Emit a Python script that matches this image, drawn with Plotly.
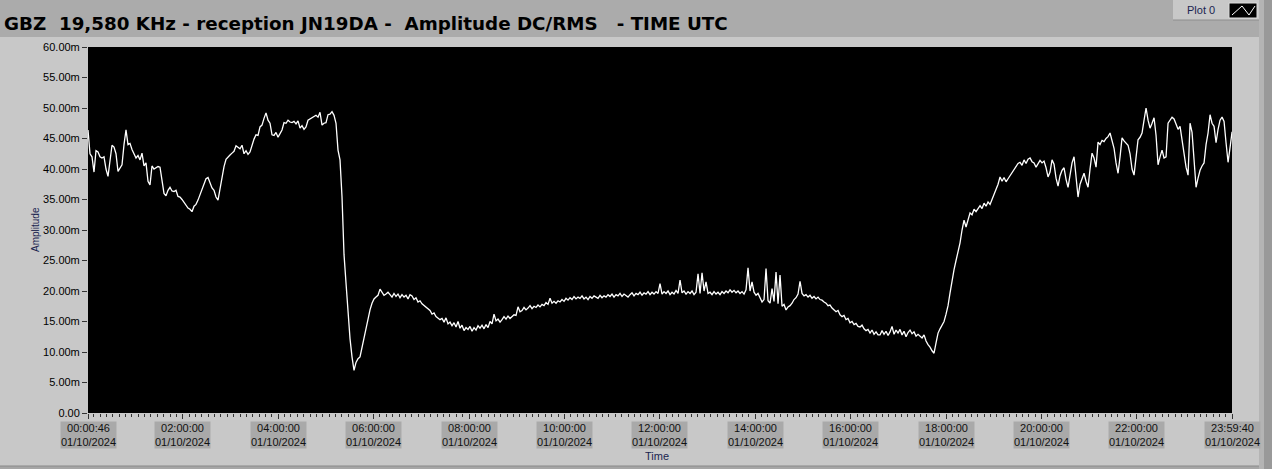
import plotly.graph_objects as go
from datetime import datetime, timedelta

# ---------------- data ----------------
TITLE = "GBZ\u00a0 19,580 KHz - reception JN19DA -\u00a0 Amplitude DC/RMS\u00a0\u00a0 - TIME UTC"
T0 = "2024-10-01 00:00:46"          # waveform start
T_END = "2024-10-01 23:59:40"       # waveform end
DT_SECONDS = 150.94                 # waveform sample interval

# amplitude in milli-units (m)
amplitude_m = [
    46.4, 42.5, 42.0, 39.5, 43.0, 42.8, 42.0, 41.8, 42.0, 40.0,
    38.8, 41.0, 43.9, 43.6, 42.5, 39.6, 40.2, 40.7, 44.0, 46.4,
    44.0, 44.2, 43.2, 42.6, 41.8, 42.2, 41.5, 42.6, 40.5, 41.0,
    38.0, 37.4, 40.5, 40.0, 40.2, 40.4, 40.3, 38.0, 36.0, 35.6,
    36.5, 37.0, 36.4, 36.3, 36.5, 35.5, 35.4, 35.0, 34.5, 34.2,
    33.6, 33.4, 33.0, 33.9, 34.2, 34.9, 35.8, 36.4, 37.4, 38.4,
    38.6, 37.8, 36.9, 36.5, 35.4, 34.9, 36.8, 38.8, 40.4, 41.6,
    42.0, 42.3, 42.6, 42.9, 43.8, 43.6, 43.3, 43.9, 42.5, 43.0,
    42.4, 42.8, 44.1, 44.9, 45.6, 45.5, 46.9, 47.2, 48.3, 49.2,
    48.0, 47.5, 45.6, 45.5, 46.0, 45.2, 45.8, 46.4, 47.6, 47.5,
    48.0, 47.7, 47.6, 47.8, 47.4, 47.9, 46.7, 47.1, 46.5, 46.9,
    48.0, 48.2, 48.3, 48.6, 48.8, 48.5, 49.3, 47.2, 47.5, 47.6,
    48.9, 49.0, 49.4, 48.8, 47.5, 43.1, 41.5, 35.4, 26.0, 21.3,
    15.7, 12.2, 9.2, 7.0, 8.3, 8.9, 9.2, 10.8, 12.3, 14.0,
    15.6, 16.9, 18.0, 18.7, 19.0, 19.3, 20.3, 19.8, 19.3, 19.5,
    19.8, 19.4, 19.0, 19.6, 19.1, 19.5, 18.9, 19.4, 19.0, 19.3,
    18.7, 19.4, 19.2, 18.6, 18.9, 18.2, 18.4, 17.9, 17.6, 17.3,
    17.0, 16.8, 16.2, 16.4, 15.8, 15.6, 15.3, 15.5, 14.9, 15.6,
    14.6, 14.9, 14.3, 14.8, 14.1, 15.0, 13.9, 14.4, 13.5, 14.0,
    13.7, 14.2, 13.4, 14.0, 13.6, 14.3, 13.9, 14.4, 13.8, 14.5,
    14.0, 15.0, 14.6, 16.2, 15.1, 15.4, 14.9, 15.3, 15.8, 15.4,
    15.9, 15.5, 15.8, 16.1, 16.0, 17.4, 16.6, 16.8, 17.3, 16.9,
    17.2, 17.6, 17.1, 17.5, 17.3, 17.7, 17.4, 17.8, 17.6, 18.1,
    17.8, 18.8, 18.0, 18.3, 18.0, 18.4, 18.2, 18.6, 18.3, 18.8,
    18.5, 18.9, 18.6, 19.1, 18.7, 19.0, 18.8, 19.2, 18.7, 19.0,
    18.6, 19.1, 18.8, 19.2, 19.0, 18.8, 19.3, 18.9, 19.2, 19.0,
    19.4, 19.1, 19.5, 19.0, 19.4, 19.2, 19.6, 19.1, 19.5, 19.3,
    19.0, 19.4, 19.7, 19.2, 19.6, 19.4, 19.8, 19.3, 19.7, 19.5,
    19.9, 19.4, 19.8, 19.5, 19.9, 19.6, 21.2, 19.5, 19.9, 19.6,
    20.0, 19.4, 19.8, 19.5, 20.1, 19.6, 21.8, 19.7, 20.0, 19.5,
    19.9, 19.6, 20.0, 19.4, 19.8, 22.8, 19.6, 23.0, 20.0, 21.5,
    19.6, 19.8, 19.4, 19.9, 19.5, 19.8, 19.4, 19.9, 19.6, 20.0,
    19.7, 20.2, 19.8, 20.1, 19.7, 20.0, 19.6, 19.9, 19.5, 20.2,
    23.8, 20.0, 21.5, 19.8, 19.3, 19.6, 18.9, 18.2, 18.6, 23.7,
    18.4, 18.0, 20.4, 18.3, 23.1, 17.9, 22.6, 17.5, 17.8, 16.9,
    17.4, 17.6, 18.0, 18.6, 18.9, 19.5, 21.6, 19.6, 19.2, 19.4,
    19.0, 19.3, 18.8, 19.1, 18.7, 19.0, 18.6, 18.5, 18.2, 18.0,
    17.6, 17.7, 17.2, 16.9, 16.6, 16.8, 16.1, 15.8, 16.0, 15.3,
    15.5, 14.8, 15.0, 14.5, 14.7, 14.2, 14.1, 14.4, 13.8, 13.5,
    13.7, 13.1, 13.6, 12.9, 13.3, 12.8, 12.8, 13.5, 12.9, 13.4,
    12.7, 13.3, 14.2, 12.9, 13.6, 13.1, 13.7, 12.8, 13.4, 12.5,
    13.2, 13.6, 13.0, 13.3, 12.6, 12.9, 12.6, 12.3, 12.8, 11.8,
    11.2, 10.8, 10.2, 9.8, 11.5, 13.1, 13.8, 14.3, 15.0, 16.2,
    17.6, 19.7, 21.8, 23.5, 25.0, 26.3, 27.9, 30.0, 31.6, 30.5,
    31.8, 32.8, 32.5, 33.4, 33.0, 33.6, 34.0, 33.5, 34.4, 33.9,
    34.6, 34.2, 35.0, 35.8, 36.6, 37.5, 38.7, 38.0, 38.6, 37.9,
    38.4, 38.9, 39.5, 39.8, 40.5, 40.9, 41.1, 40.6, 41.5, 40.9,
    41.6, 41.8, 41.2, 41.0, 40.3, 40.8, 41.4, 41.0, 41.3, 40.2,
    38.7, 39.5, 41.5, 40.8, 38.5, 37.2, 38.9, 39.8, 40.2, 38.3,
    37.0, 39.0, 41.0, 42.0, 39.0, 35.4, 37.5, 38.6, 39.3, 38.0,
    37.0, 40.0, 42.6, 41.8, 40.3, 44.4, 44.0, 44.7, 44.5, 45.0,
    45.3, 45.9, 44.8, 43.4, 41.0, 39.3, 42.0, 45.1, 44.6, 44.3,
    43.9, 42.5, 40.0, 39.0, 42.5, 44.8, 45.2, 45.9, 48.0, 50.0,
    48.0, 46.7, 47.5, 48.4, 45.5, 40.7, 42.0, 43.1, 41.8, 42.0,
    47.5, 48.0, 48.5, 48.2, 47.2, 46.5, 47.0, 44.8, 42.0, 40.3,
    39.0, 47.5, 46.0, 42.0, 37.0, 38.5, 39.8, 40.5, 41.0, 44.0,
    45.9, 48.9, 47.5, 47.0, 44.3, 46.5, 48.0, 48.5, 47.8, 44.3,
    41.1, 43.5, 46.1,
]

Y_TICKS = [0, 5, 10, 15, 20, 25, 30, 35, 40, 45, 50, 55, 60]
Y_TICK_TEXT = ["0.00", "5.00m", "10.00m", "15.00m", "20.00m", "25.00m", "30.00m",
               "35.00m", "40.00m", "45.00m", "50.00m", "55.00m", "60.00m"]
X_TICK_TIMES = ["00:00:46", "02:00:00", "04:00:00", "06:00:00", "08:00:00", "10:00:00",
                "12:00:00", "14:00:00", "16:00:00", "18:00:00", "20:00:00", "22:00:00",
                "23:59:40"]
X_TICK_DATE = "01/10/2024"
DAY = "2024-10-01"
MINOR_TICK_MS = 8 * 60 * 1000

# ---------------- geometry helpers (decoration only) ----------------
W, H = 1272, 469
ML, MR, MT, MB = 88, 40, 47, 56
PW, PH = W - ML - MR, H - MT - MB


def px(x):
    return (x - ML) / PW


def py(y):
    return (H - MB - y) / PH


t0 = datetime.fromisoformat(T0)
times = [t0 + timedelta(seconds=i * DT_SECONDS) for i in range(len(amplitude_m))]
x_tick_vals = [f"{DAY} {t}" for t in X_TICK_TIMES]

FONT = "Liberation Sans, Arial, sans-serif"

fig = go.Figure()
fig.add_trace(go.Scatter(x=times, y=amplitude_m, mode="lines",
                         line=dict(color="white", width=1.3), showlegend=False,
                         hoverinfo="skip"))

shapes = [
    # title band
    dict(type="rect", xref="paper", yref="paper", x0=px(0), x1=px(W), y0=py(37), y1=py(0),
         fillcolor="#ababab", line=dict(width=0), layer="below"),
    # right strip
    dict(type="rect", xref="paper", yref="paper", x0=px(1259), x1=px(1264), y0=py(H), y1=py(0),
         fillcolor="#b4b4b4", line=dict(width=0), layer="below"),
    dict(type="rect", xref="paper", yref="paper", x0=px(1264), x1=px(W), y0=py(H), y1=py(0),
         fillcolor="#999999", line=dict(width=0), layer="below"),
    # bottom edge
    dict(type="rect", xref="paper", yref="paper", x0=px(0), x1=px(1259), y0=py(H), y1=py(466),
         fillcolor="#a6a6a6", line=dict(width=0), layer="below"),
    dict(type="line", xref="paper", yref="paper", x0=px(0), x1=px(1259), y0=py(466), y1=py(466),
         line=dict(color="#8a8a8a", width=1), layer="below"),
    # legend box
    dict(type="rect", xref="paper", yref="paper", x0=px(1173), x1=px(1259), y0=py(20), y1=py(0),
         fillcolor="#c8c8c8", line=dict(width=0), layer="below"),
    dict(type="line", xref="paper", yref="paper", x0=px(1173), x1=px(1259), y0=py(20), y1=py(20),
         line=dict(color="#8e8e8e", width=1), layer="below"),
    dict(type="rect", xref="paper", yref="paper", x0=px(1229), x1=px(1257), y0=py(18), y1=py(3),
         fillcolor="black", line=dict(color="#dcdcdc", width=1), layer="above"),
    dict(type="path", xref="paper", yref="paper",
         path=f"M {px(1232)},{py(15)} L {px(1242)},{py(6)} L {px(1249)},{py(15)} L {px(1255)},{py(6)}",
         line=dict(color="white", width=1), layer="above"),
]

annotations = [
    dict(text=f"<b>{TITLE}</b>", xref="paper", yref="paper", x=px(2), y=py(23.5),
         xanchor="left", yanchor="middle", showarrow=False,
         font=dict(family="DejaVu Sans, sans-serif", size=18.3, color="black")),
    dict(text="Plot 0", xref="paper", yref="paper", x=px(1201), y=py(10),
         xanchor="center", yanchor="middle", showarrow=False,
         font=dict(family=FONT, size=11, color="#1a2550")),
    dict(text="Amplitude", xref="paper", yref="paper", x=px(35), y=py(230), textangle=-90,
         xanchor="center", yanchor="middle", showarrow=False,
         font=dict(family=FONT, size=10, color="#1a2550")),
    dict(text="Time", xref="paper", yref="paper", x=px(657), y=py(456),
         xanchor="center", yanchor="middle", showarrow=False,
         font=dict(family=FONT, size=11, color="#1a2550")),
]
for tv, tt in zip(x_tick_vals, X_TICK_TIMES):
    annotations.append(dict(text=f"{tt}<br>{X_TICK_DATE}", x=tv, xref="x", yref="paper",
                            y=py(421), xanchor="center", yanchor="top", showarrow=False,
                            bgcolor="#a9a9a9", borderpad=0,
                            font=dict(family=FONT, size=11, color="#111111")))

fig.update_layout(
    width=W, height=H,
    margin=dict(l=ML, r=MR, t=MT, b=MB, pad=0),
    paper_bgcolor="#c8c8c8", plot_bgcolor="black",
    shapes=shapes, annotations=annotations, showlegend=False,
)
fig.update_xaxes(type="date", range=[T0, T_END], tickmode="array", tickvals=x_tick_vals,
                 showticklabels=False, ticks="outside", ticklen=5, tickcolor="#333333",
                 showgrid=False, zeroline=False, showline=False,
                 minor=dict(ticks="outside", ticklen=3, tickcolor="#333333",
                            dtick=MINOR_TICK_MS, tick0=f"{DAY} 00:00:00", showgrid=False))
fig.update_yaxes(range=[0, 60], tickmode="array", tickvals=Y_TICKS, ticktext=Y_TICK_TEXT,
                 ticks="outside", ticklen=5, tickcolor="#333333",
                 tickfont=dict(family=FONT, size=11, color="black"),
                 showgrid=False, zeroline=False, showline=False)

fig.write_html("out.html", config={"displayModeBar": False},
               post_script="document.body.style.margin='0';document.body.style.overflow='hidden';")
